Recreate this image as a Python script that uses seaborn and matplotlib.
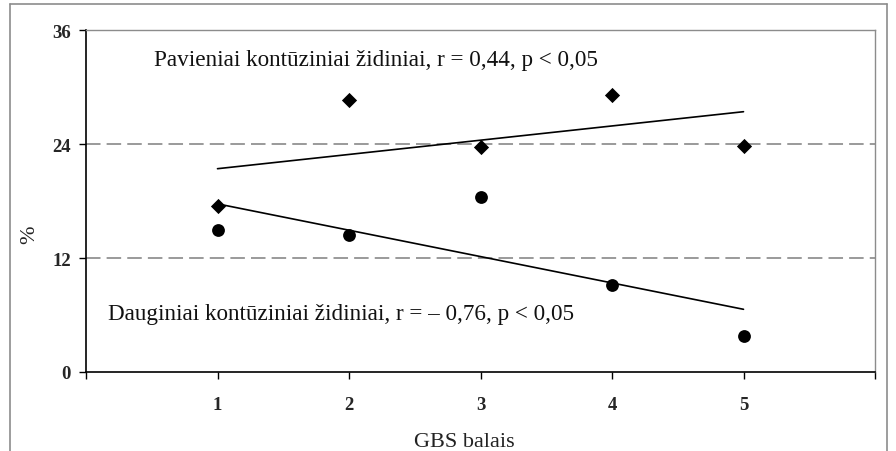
import matplotlib
matplotlib.use("Agg")
import matplotlib.pyplot as plt
from matplotlib.lines import Line2D
import pandas as pd
import seaborn as sns

# GBS score groups and share (%) of patients with contusion foci
gbs_score = [1, 2, 3, 4, 5]
single_foci = [17.5, 28.6, 23.7, 29.2, 23.8]      # Pavieniai kontūziniai židiniai
multiple_foci = [15.0, 14.4, 18.4, 9.2, 3.8]      # Dauginiai kontūziniai židiniai

# linear trend lines (values at the first and last GBS score)
trend_x = [1, 5]
single_trend = [21.4, 27.4]
multiple_trend = [17.7, 6.6]

y_ticks = [0, 12, 24, 36]
x_ticks = [1, 2, 3, 4, 5]
single_label = "Pavieniai kontūziniai židiniai, r = 0,44, p < 0,05"
multiple_label = "Dauginiai kontūziniai židiniai, r = – 0,76, p < 0,05"

sns.set_theme(style="white")
plt.rcParams["font.family"] = ["Liberation Serif", "DejaVu Serif"]

points = pd.DataFrame({"GBS": gbs_score, "single": single_foci, "multiple": multiple_foci})
trends = pd.DataFrame({"GBS": trend_x, "single": single_trend, "multiple": multiple_trend})

fig = plt.figure(figsize=(8.96, 4.52), dpi=100)
ax = fig.add_axes([86 / 896, 1 - 373 / 452, (875 - 86) / 896, (373 - 31) / 452])

# dashed reference lines at the inner y gridlines
for yv in y_ticks[1:-1]:
    ax.axhline(yv, color="#7f7f7f", lw=1.1, linestyle=(0, (9.5, 4.0)), zorder=1)

sns.lineplot(data=trends, x="GBS", y="single", ax=ax, color="black", lw=1.2, zorder=2)
sns.lineplot(data=trends, x="GBS", y="multiple", ax=ax, color="black", lw=1.2, zorder=2)
sns.scatterplot(data=points, x="GBS", y="single", ax=ax, marker="D", s=60,
                color="black", edgecolor="black", linewidth=0, zorder=3)
sns.scatterplot(data=points, x="GBS", y="multiple", ax=ax, marker="o", s=85,
                color="black", edgecolor="black", linewidth=0, zorder=3)

ax.set_xlim(0, 6)
ax.set_ylim(0, 36)
ax.set_yticks(y_ticks)
ax.set_yticklabels([str(v) for v in y_ticks], fontweight="bold", fontsize=13.5)
ax.set_xticks([0] + x_ticks + [6])
ax.set_xticklabels([""] + [str(v) for v in x_ticks] + [""], fontweight="bold", fontsize=13.5)
ax.tick_params(axis="both", direction="out", length=5, width=1.0, color="black",
               left=True, bottom=True)
ax.tick_params(axis="y", pad=6)
ax.tick_params(axis="x", pad=12)

for side in ("left", "bottom"):
    ax.spines[side].set_color("black")
    ax.spines[side].set_linewidth(1.2)
for side in ("top", "right"):
    ax.spines[side].set_color("#8c8c8c")
    ax.spines[side].set_linewidth(1.0)

ax.set_xlabel("GBS balais", fontsize=16, color="#222222")
ax.xaxis.set_label_coords((464 - 86) / (875 - 86), -(433 - 373) / (373 - 31))
ax.set_ylabel("%", fontsize=16, color="#222222")
ax.yaxis.set_label_coords(-(86 - 39) / (875 - 86), (373 - 235) / (373 - 31))

ax.text(0.517, 32.35, single_label, fontsize=16.7, ha="left", va="baseline", color="#111111")
ax.text(0.167, 5.58, multiple_label, fontsize=16.7, ha="left", va="baseline", color="#111111")

# outer frame around the chart area
frame_kw = dict(color="#8c8c8c", lw=1.2, transform=fig.transFigure, clip_on=False)
x0, x1, ytop = 10 / 896, 887 / 896, 1 - 5 / 452
fig.add_artist(Line2D([x0, x0], [0, ytop], **frame_kw))
fig.add_artist(Line2D([x1, x1], [0, ytop], **frame_kw))
fig.add_artist(Line2D([x0, x1], [ytop, ytop], **frame_kw))

fig.savefig("out.png", dpi=100)
